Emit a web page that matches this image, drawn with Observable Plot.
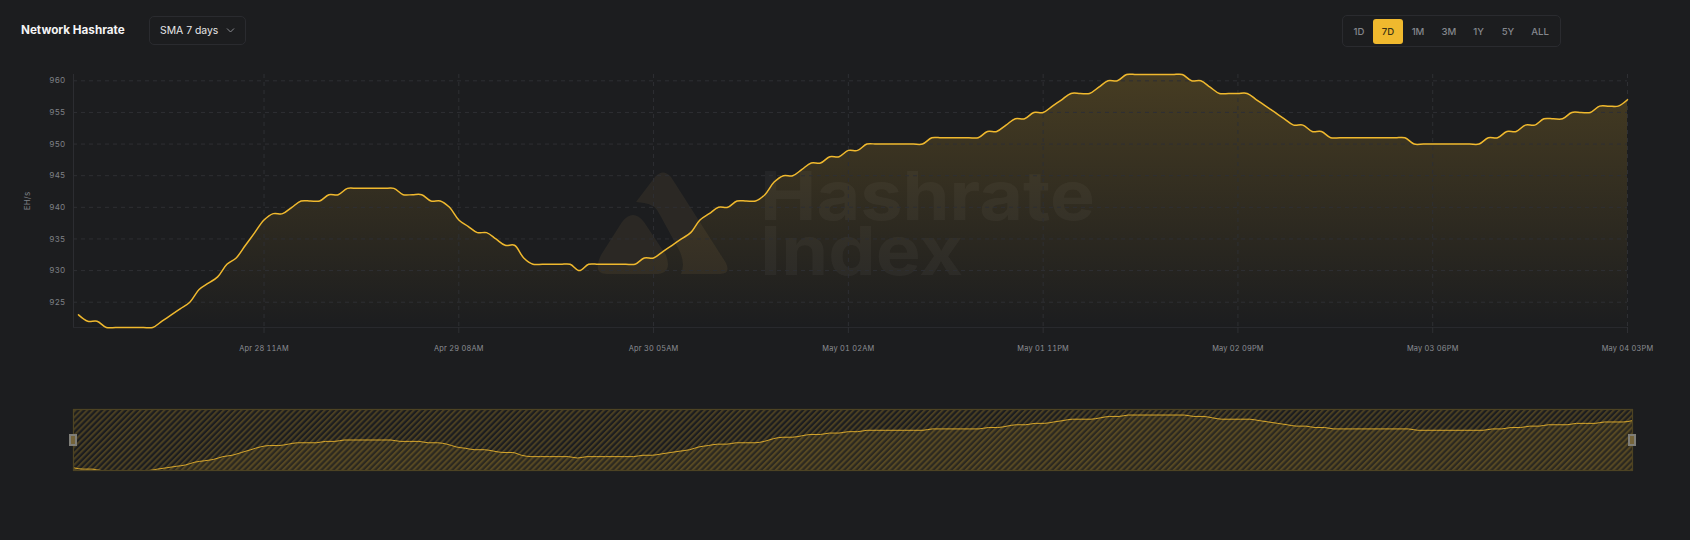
<!DOCTYPE html>
<html>
<head>
<meta charset="utf-8">
<script src="https://cdn.jsdelivr.net/npm/d3@7"></script>
<script src="https://cdn.jsdelivr.net/npm/@observablehq/plot@0.6"></script>
<style>
  html, body { margin: 0; padding: 0; background: #1c1d1f; width: 1690px; height: 540px; overflow: hidden; font-family: Inter, "Noto Sans", sans-serif; }
  #page { position: relative; width: 1690px; height: 540px; }
  .abs { position: absolute; }
  #title { left: 21px; top: 21px; font-size: 11.7px; line-height: 18px; font-weight: 700; color: #f4f4f5; }
  #select { left: 149px; top: 16px; width: 97px; height: 29px; box-sizing: border-box; border: 1px solid #2a2b2f; border-radius: 5px; color: #e6e6e8; font-size: 10.4px; line-height: 27px; padding-left: 10px; }
  #select svg { position: absolute; left: 76px; top: 10px; }
  #range { left: 1342px; top: 15px; width: 219px; height: 32px; box-sizing: border-box; border: 1px solid #2a2b2f; border-radius: 5px; }
  .btn { position: absolute; top: 3px; height: 25px; line-height: 25px; text-align: center; font-size: 9.6px; font-weight: 500; color: #85878d; transform: translateX(-50%); }
  .btn.on { background: #f0b92e; color: #3a3213; border-radius: 3px; width: 30px; }
  #mark { left: 0; top: 0; }
  .wm { left: 760px; font-size: 68px; line-height: 52px; font-weight: 700; color: rgba(255,255,255,0.04); white-space: nowrap; transform: scaleX(1.11); transform-origin: left center; }
  #main, #brush { left: 0; }
  #main { top: 0; }
  #main text { letter-spacing: 0.2px; }
  #brush { top: 400px; }
  .handle { width: 4px; height: 8px; background: #75643a; border: 2px solid #7f7e78; top: 434px; }
</style>
</head>
<body>
<div id="page">
  <svg id="mark" class="abs" width="1690" height="360">
    <path d="M636 202 L655 177 Q663 168 671 177 L726 263 Q731 274 720 274 L681 274 Q686 262 678 248 L660 215 Q655 204 644 203 Z" fill="rgba(240,200,120,0.07)"/>
    <path d="M622 222 Q633 208 644 222 L666 255 Q673 274 655 274 L607 274 Q592 274 601 255 Z" fill="rgba(240,200,120,0.07)"/>
  </svg>
  <div class="abs wm" style="top:168.5px">Hashrate</div>
  <div class="abs wm" style="top:223.5px">Index</div>
  <div class="abs" id="main"></div>
  <div class="abs" id="brush"></div>
  <div class="abs handle" style="left:69px"></div>
  <div class="abs handle" style="left:1628px"></div>
  <div class="abs" id="title">Network Hashrate</div>
  <div class="abs" id="select">SMA 7 days
    <svg width="9" height="7" viewBox="0 0 9 7"><path d="M1 1.5 L4.5 5 L8 1.5" fill="none" stroke="#8a8c91" stroke-width="1"/></svg>
  </div>
  <div class="abs" id="range"></div>
</div>
<script>
// Network hashrate, SMA 7 days (EH/s), one value per hour
const hashrate = [
  923,922,922,921,921,921,921,921,921,922,923,924,925,927,928,929,931,932,934,936,
  938,939,939,940,941,941,941,942,942,943,943,943,943,943,943,942,942,942,941,941,
  940,938,937,936,936,935,934,934,932,931,931,931,931,931,930,931,931,931,931,931,
  931,932,932,933,934,935,936,938,939,940,940,941,941,941,942,944,945,945,946,947,
  947,948,948,949,949,950,950,950,950,950,950,950,951,951,951,951,951,951,952,952,
  953,954,954,955,955,956,957,958,958,958,959,960,960,961,961,961,961,961,961,961,
  960,960,959,958,958,958,958,957,956,955,954,953,953,952,952,951,951,951,951,951,
  951,951,951,951,950,950,950,950,950,950,950,950,951,951,952,952,953,953,954,954,
  954,955,955,955,956,956,956,957
];
const tickHours = [20, 41, 62, 83, 104, 125, 146, 167];
const tickLabels = ["Apr 28 11AM","Apr 29 08AM","Apr 30 05AM","May 01 02AM","May 01 11PM","May 02 09PM","May 03 06PM","May 04 03PM"];
const yTicks = [925, 930, 935, 940, 945, 950, 955, 960];
const rangeButtons = ["1D","7D","1M","3M","1Y","5Y","ALL"];
const rangeCenters = [16, 45, 75, 106, 135.5, 165, 197];

const YELLOW = "#f0b92e";
const idx = (d, i) => i;
const val = d => d;
const labelFor = new Map(tickHours.map((h, i) => [h, tickLabels[i]]));

const defs = (build) => () => {
  const svg = d3.create("svg:defs");
  build(svg);
  return svg.node();
};

const main = Plot.plot({
  width: 1690, height: 370,
  marginLeft: 73, marginRight: 63, marginTop: 74, marginBottom: 43,
  style: { background: "transparent", fontFamily: "Inter, sans-serif", fontSize: "8px", color: "#7e8086", overflow: "visible" },
  x: { type: "linear", domain: [-0.54, 167] },
  y: { domain: [921, 961] },
  marks: [
    defs(s => {
      const g = s.append("linearGradient").attr("id", "areaFade").attr("gradientUnits", "userSpaceOnUse")
        .attr("x1", 0).attr("x2", 0).attr("y1", 74).attr("y2", 327);
      g.append("stop").attr("offset", 0).attr("stop-color", YELLOW).attr("stop-opacity", 0.2);
      g.append("stop").attr("offset", 1).attr("stop-color", YELLOW).attr("stop-opacity", 0);
    }),
    Plot.areaY(hashrate, { x: idx, y1: 921, y2: val, curve: "catmull-rom", fill: "url(#areaFade)" }),
    Plot.gridY(yTicks, { stroke: "#2e2f33", strokeOpacity: 1, strokeDasharray: "4 4" }),
    Plot.gridX(tickHours, { stroke: "#2e2f33", strokeOpacity: 1, strokeDasharray: "4 4" }),
    Plot.ruleY([921], { stroke: "#28292d" }),
    Plot.ruleX([-0.54], { stroke: "#2c2d31" }),
    Plot.axisX(tickHours, { tickFormat: h => labelFor.get(h), tickSize: 6, stroke: "#2e2f33", tickPadding: 12, fill: "#8b8d93", label: null, fontSize: 7.4, textStroke: "none" }),
    Plot.axisY(yTicks, { tickSize: 0, tickPadding: 8, fill: "#7e8086", label: "EH/s", labelAnchor: "center", labelArrow: "none", labelOffset: 49, fontSize: 8 }),
    Plot.lineY(hashrate, { x: idx, y: val, curve: "catmull-rom", stroke: YELLOW, strokeWidth: 1.5 })
  ]
});
document.getElementById("main").append(main);

const brush = Plot.plot({
  width: 1690, height: 80,
  marginLeft: 73, marginRight: 58, marginTop: 9, marginBottom: 10,
  style: { background: "transparent" },
  x: { type: "linear", domain: [0, 167], axis: null },
  y: { domain: [921, 965], axis: null },
  marks: [
    defs(s => {
      const p = s.append("pattern").attr("id", "hatch").attr("patternUnits", "userSpaceOnUse")
        .attr("width", 4.2).attr("height", 4.2).attr("patternTransform", "rotate(45)");
      p.append("rect").attr("width", 2).attr("height", 4.2).attr("fill", YELLOW).attr("fill-opacity", 0.22);
    }),
    Plot.areaY(hashrate, { x: idx, y1: 921, y2: val, curve: "monotone-x", fill: YELLOW, fillOpacity: 0.08 }),
    Plot.lineY(hashrate, { x: idx, y: val, curve: "monotone-x", stroke: YELLOW, strokeWidth: 1, strokeOpacity: 0.85 }),
    Plot.frame({ fill: "url(#hatch)", stroke: "#4d4323", strokeWidth: 1.2 })
  ]
});
document.getElementById("brush").append(brush);

const range = document.getElementById("range");
rangeButtons.forEach((t, i) => {
  const b = document.createElement("div");
  b.className = "btn" + (t === "7D" ? " on" : "");
  b.style.left = rangeCenters[i] + "px";
  b.textContent = t;
  range.append(b);
});
</script>
</body>
</html>
